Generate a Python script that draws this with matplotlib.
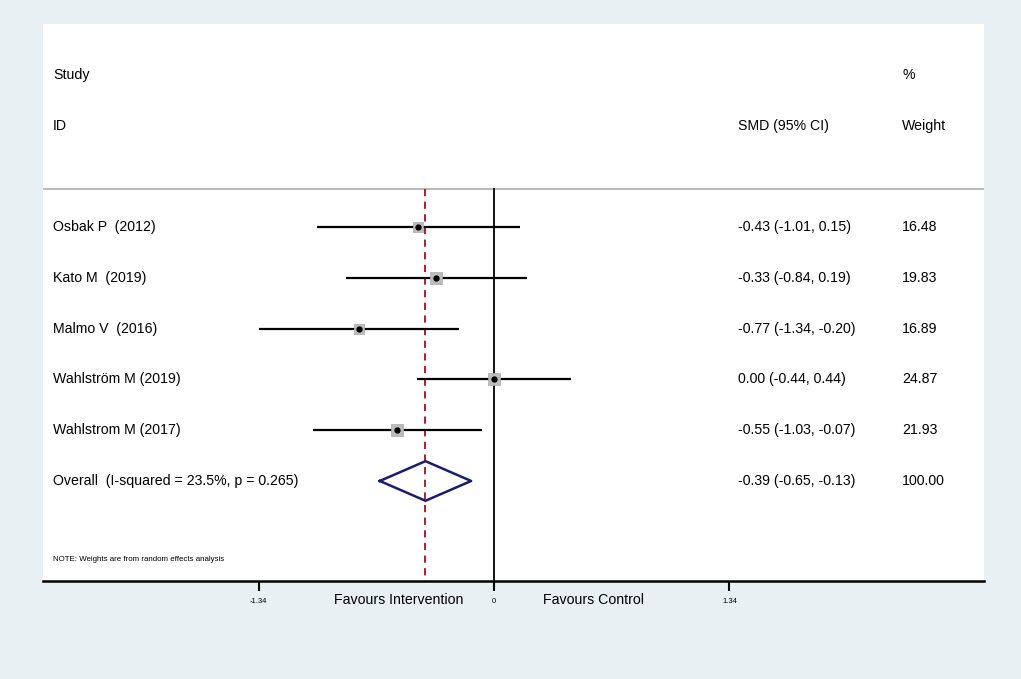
import matplotlib
matplotlib.use("Agg")
import matplotlib.pyplot as plt
import matplotlib.transforms as mtransforms
import numpy as np

plt.rcParams['font.family'] = ['Liberation Sans', 'DejaVu Sans']

studies = ["Osbak P  (2012)", "Kato M  (2019)", "Malmo V  (2016)",
           "Wahlström M (2019)", "Wahlstrom M (2017)"]
smd = [-0.43, -0.33, -0.77, 0.00, -0.55]
lower = [-1.01, -0.84, -1.34, -0.44, -1.03]
upper = [0.15, 0.19, -0.20, 0.44, -0.07]
weights = [16.48, 19.83, 16.89, 24.87, 21.93]

overall_label = "Overall  (I-squared = 23.5%, p = 0.265)"
overall = -0.39
overall_lo = -0.65
overall_hi = -0.13

xticks = [-1.34, 0, 1.34]
xticklabels = ["-1.34", "0", "1.34"]

bg = "#e8f0f3"
fig = plt.figure(figsize=(10.21, 6.79), dpi=100, facecolor=bg)
ax = fig.add_axes([43 / 1021, 98 / 679, 941 / 1021, 557 / 679])
ax.set_facecolor("white")
ax.set_xlim(-2.567, 2.789)
ax.set_ylim(6.97, -4.0)

for s in ["top", "right", "left"]:
    ax.spines[s].set_visible(False)
ax.spines["bottom"].set_linewidth(1.8)
ax.set_yticks([])
ax.set_xticks(xticks)
ax.set_xticklabels(xticklabels, fontsize=5.5)
ax.tick_params(axis="x", length=7, width=1.5, direction="out", pad=5)

tr = mtransforms.blended_transform_factory(ax.transAxes, ax.transData)
fs = 10.2
x_id = 0.0106
x_ci = 0.7386
x_w = 0.9129

# header
ax.text(x_id, -3, "Study", transform=tr, fontsize=fs, va="center")
ax.text(x_id, -2, "ID", transform=tr, fontsize=fs, va="center")
ax.text(x_ci, -2, "SMD (95% CI)", transform=tr, fontsize=fs, va="center")
ax.text(x_w, -3, "%", transform=tr, fontsize=fs, va="center")
ax.text(x_w, -2, "Weight", transform=tr, fontsize=fs, va="center")
ax.plot([0, 1], [-0.75, -0.75], transform=tr, color="#b4b4b4", lw=1.3)

# reference lines
ax.plot([0, 0], [-0.75, 6.97], color="black", lw=1.3)
ax.plot([overall, overall], [-0.75, 6.97], color="#a0101e", lw=1.3,
        dashes=(4, 3))

rows = np.arange(len(studies))
for i, y in enumerate(rows):
    ax.plot([lower[i], upper[i]], [y, y], color="black", lw=1.6,
            solid_capstyle="butt")
    ax.plot(smd[i], y, marker="s", markersize=np.sqrt(weights[i]) * 1.8,
            color="#bcbcbc", markeredgecolor="#a8a8a8", markeredgewidth=0.5)
    ax.plot(smd[i], y, marker="o", markersize=3.5, color="black")
    ax.text(x_id, y, studies[i], transform=tr, fontsize=fs, va="center")
    ax.text(x_ci, y, f"{smd[i]:.2f} ({lower[i]:.2f}, {upper[i]:.2f})",
            transform=tr, fontsize=fs, va="center")
    ax.text(x_w, y, f"{weights[i]:.2f}", transform=tr, fontsize=fs,
            va="center")

# overall diamond
yo = len(studies)
ax.plot([overall_lo, overall, overall_hi, overall, overall_lo],
        [yo, yo - 0.39, yo, yo + 0.39, yo], color="#1c1c6e", lw=1.8)
ax.text(x_id, yo, overall_label, transform=tr, fontsize=fs, va="center")
ax.text(x_ci, yo, f"{overall:.2f} ({overall_lo:.2f}, {overall_hi:.2f})",
        transform=tr, fontsize=fs, va="center")
ax.text(x_w, yo, f"{sum(weights):.2f}", transform=tr, fontsize=fs,
        va="center")

ax.text(x_id, 6.55, "NOTE: Weights are from random effects analysis",
        transform=tr, fontsize=5.7, va="center")

# favours labels below axis
trb = mtransforms.blended_transform_factory(ax.transData, ax.transAxes)
ax.text(-0.545, -0.034, "Favours Intervention", transform=trb, fontsize=fs,
        ha="center", va="center")
ax.text(0.565, -0.034, "Favours Control", transform=trb, fontsize=fs,
        ha="center", va="center")

fig.savefig("out.png", dpi=100, facecolor=bg)
